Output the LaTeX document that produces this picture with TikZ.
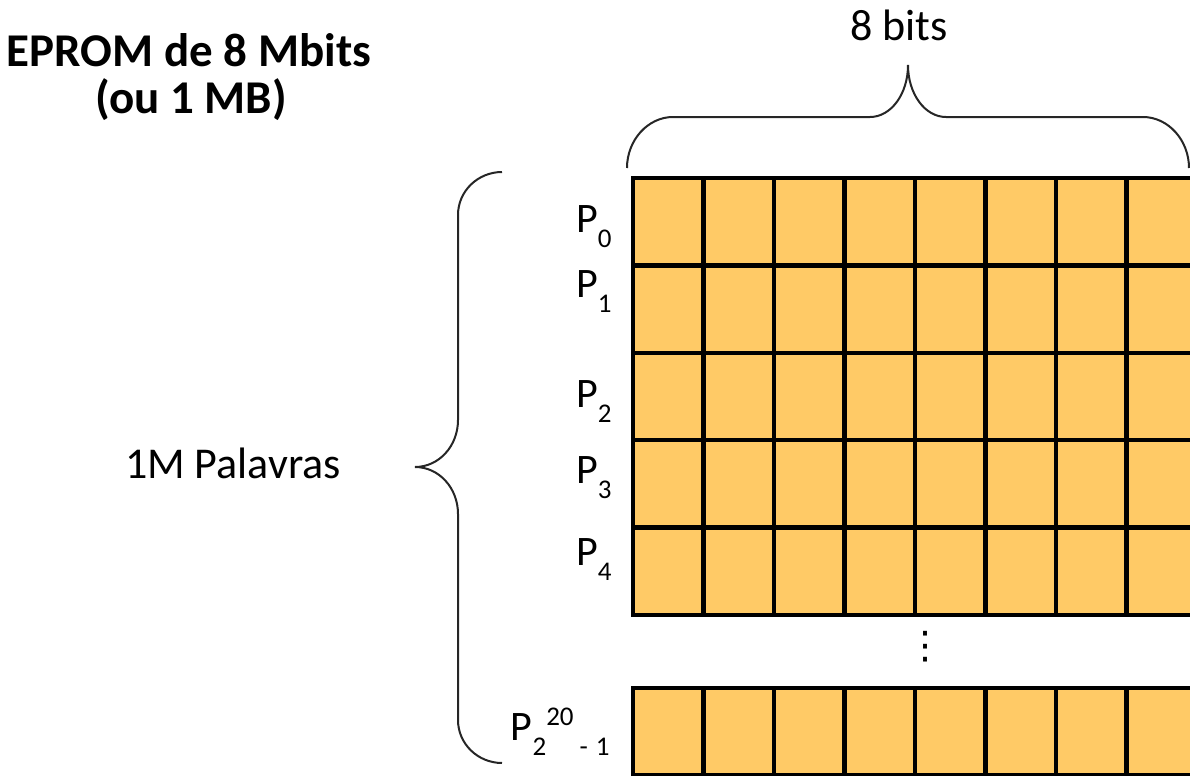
\documentclass[tikz,border=0pt]{standalone}
\usepackage{fontspec}
\setmainfont{Carlito}
\newfontfamily\symbolfont{DejaVu Sans}
\usepackage{tikz}
\usetikzlibrary{positioning, calc}
\definecolor{cellfill}{RGB}{255,202,102}
\tikzset{
    cell/.style={rectangle, draw=black, fill=cellfill, line width=2.2pt, minimum width=35.25pt, minimum height=43.7pt, inner sep=0pt},
    wordlabel/.style={anchor=base east, inner sep=0pt, font=\fontsize{21}{25}\selectfont},
    plaintext/.style={anchor=base, inner sep=0pt, font=\fontsize{22}{26}\selectfont},
    titletext/.style={anchor=base, inner sep=0pt, font=\bfseries\fontsize{23.5}{28}\selectfont},
    bracket/.style={draw=black!85, line width=1pt}
}
\newcommand{\wsub}[1]{\raisebox{-7.5pt}{\fontsize{13.5}{15}\selectfont #1}}
\newcommand{\wsup}[1]{\raisebox{7.5pt}{\fontsize{13.5}{15}\selectfont #1}}

\begin{document}
\begin{tikzpicture}[x=0.5pt, y=-0.5pt]
        \useasboundingbox (0,0) rectangle (1190,776);
        \clip (0,0) rectangle (1190,776);

        % Title
        \node[titletext] (title) at (189,67) {EPROM de 8 Mbits};
        \node[titletext] (subtitle) at (191,113) {(ou 1 MB)};

        % Memory words
        \foreach \r in {0,...,4}
            \foreach \c in {0,...,7}
                \node[cell] (w\r-\c) at ({668.25+70.5*\c},{221.7+87.4*\r}) {};
        \foreach \c in {0,...,7}
            \node[cell] (wlast-\c) at ({668.25+70.5*\c},731.7) {};

        % Word labels
        \foreach \r/\b in {0/232, 1/297, 2/407, 3/483, 4/565}
            \node[wordlabel] (p\r) at (612,\b) {P\wsub{\r}};
        \node[wordlabel] (plast) at (610,740) {P\wsub{2}\wsup{20}\kern3pt\wsub{-\kern4pt1}};

        % Ellipsis
        \node[inner sep=0pt, font=\symbolfont\fontsize{19}{22}\selectfont] (vdots) at (925,647) {⋮};

        % Braces
        \draw[bracket] (627,168) .. controls (627,140) and (648,117) .. (673,117) -- (870,117)
            .. controls (891,117) and (908,94) .. (908,65)
            .. controls (908,94) and (925,117) .. (946,117) -- (1143,117)
            .. controls (1168,117) and (1189,140) .. (1189,168);
        \draw[bracket] (502,172) .. controls (478,172) and (458,191) .. (458,215) -- (458,420)
            .. controls (458,446) and (439,467) .. (415,467)
            .. controls (439,467) and (458,488) .. (458,514) -- (458,720)
            .. controls (458,744) and (478,763) .. (502,763);

        % Brace labels
        \node[plaintext] (bits) at (899,40) {8 bits};
        \node[plaintext] (words) at (233,478) {1M Palavras};
    \end{tikzpicture}
\end{document}
